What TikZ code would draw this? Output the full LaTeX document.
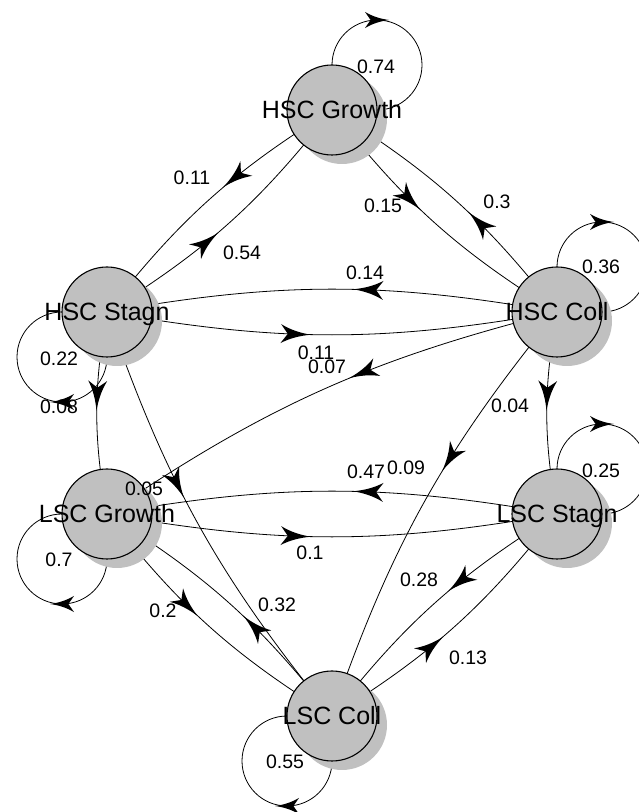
\documentclass[tikz,border=0pt]{standalone}
\usepackage{fontspec}
\setmainfont{Liberation Sans}
\usetikzlibrary{decorations.markings,shadows,backgrounds}
\definecolor{nodegray}{RGB}{192,192,192}
\newcommand\myhead{\fill (15pt,0pt) .. controls (3pt,1.6pt) and (-6pt,4.5pt) .. (-15pt,9.5pt) .. controls (-11pt,4pt) .. (-8pt,0pt) .. controls (-11pt,-4pt) .. (-15pt,-9.5pt) .. controls (-6pt,-4.5pt) and (3pt,-1.6pt) .. (15pt,0pt) -- cycle;}
\newcommand\myheadrev{\begin{scope}[xscale=-0.8,yscale=0.85]\myhead\end{scope}}
\begin{document}
\begin{tikzpicture}[x=1pt,y=1pt,
  state/.style={circle, draw=black, line width=1.1pt, fill=nodegray, minimum size=90pt, inner sep=0pt,
    drop shadow={shadow xshift=10pt, shadow yshift=-9pt, fill=nodegray, opacity=1}},
  lbl/.style={font=\fontsize{25}{25}\selectfont, text height=17.9pt, text depth=0pt, inner sep=0pt},
  wt/.style={font=\fontsize{19.5}{19.5}\selectfont, text height=14pt, text depth=0pt, inner sep=0pt},
  ed/.style={draw=black, line width=0.8pt, postaction={decorate, decoration={markings, mark=at position #1 with {\myhead}}}},
  loopup/.style={draw=black, line width=0.8pt, postaction={decorate, decoration={markings, mark=at position 0.25 with {\myheadrev}}}},
  loopdn/.style={draw=black, line width=0.8pt, postaction={decorate, decoration={markings, mark=at position 0.75 with {\myheadrev}}}}
]
\useasboundingbox (0,0) rectangle (638,812);

% states
\node[state, label={[lbl]center:HSC Growth}] (HG) at (332,702) {};
\node[state, label={[lbl]center:HSC Stagn}]  (HS) at (107,500) {};
\node[state, label={[lbl]center:HSC Coll}]   (HC) at (557,500) {};
\node[state, label={[lbl]center:LSC Growth}] (LG) at (107,298) {};
\node[state, label={[lbl]center:LSC Stagn}]  (LS) at (557,298) {};
\node[state, label={[lbl]center:LSC Coll}]   (LC) at (332,96) {};

\begin{scope}[on background layer]
  % self loops
  \draw[loopup] ([shift={(45,45)}]HG.center) circle[radius=45];
  \draw[loopup] ([shift={(45,45)}]HC.center) circle[radius=45];
  \draw[loopup] ([shift={(45,45)}]LS.center) circle[radius=45];
  \draw[loopdn] ([shift={(-45,-45)}]HS.center) circle[radius=45];
  \draw[loopdn] ([shift={(-45,-45)}]LG.center) circle[radius=45];
  \draw[loopdn] ([shift={(-45,-45)}]LC.center) circle[radius=45];
  % transitions
  \draw[ed=0.39]  (HG.center) to[bend right=10] (HS.center);
  \draw[ed=0.40]  (HS.center) to[bend right=10] (HG.center);
  \draw[ed=0.39]  (HG.center) to[bend right=10] (HC.center);
  \draw[ed=0.39]  (HC.center) to[bend right=10] (HG.center);
  \draw[ed=0.42]  (HC.center) to[bend right=10] (HS.center);
  \draw[ed=0.42]  (HS.center) to[bend right=10] (HC.center);
  \draw[ed=0.415] (HS.center) to[bend right=10] (LG.center);
  \draw[ed=0.415] (HC.center) to[bend right=10] (LS.center);
  \draw[ed=0.41]  (HC.center) to[bend right=10] (LG.center);
  \draw[ed=0.39]  (HC.center) to[bend right=10] (LC.center);
  \draw[ed=0.40]  (HS.center) to[bend right=10] (LC.center);
  \draw[ed=0.42]  (LS.center) to[bend right=10] (LG.center);
  \draw[ed=0.42]  (LG.center) to[bend right=10] (LS.center);
  \draw[ed=0.40]  (LG.center) to[bend right=10] (LC.center);
  \draw[ed=0.39]  (LC.center) to[bend right=10] (LG.center);
  \draw[ed=0.39]  (LS.center) to[bend right=10] (LC.center);
  \draw[ed=0.40]  (LC.center) to[bend right=10] (LS.center);
\end{scope}

% weights
\node[wt] (w01) at (376,745) {0.74};
\node[wt] (w02) at (192,634) {0.11};
\node[wt] (w03) at (242,559) {0.54};
\node[wt] (w04) at (383,606) {0.15};
\node[wt] (w05) at (497,610) {0.3};
\node[wt] (w06) at (601,545) {0.36};
\node[wt] (w07) at (365,539) {0.14};
\node[wt] (w08) at (316,459) {0.11};
\node[wt] (w09) at (327,445) {0.07};
\node[wt] (w10) at (59,453) {0.22};
\node[wt] (w11) at (59,405) {0.08};
\node[wt] (w12) at (510,406) {0.04};
\node[wt] (w13) at (366,340) {0.47};
\node[wt] (w14) at (406,344) {0.09};
\node[wt] (w15) at (601,341) {0.25};
\node[wt] (w16) at (144,323) {0.05};
\node[wt] (w17) at (310,259) {0.1};
\node[wt] (w18) at (59,252) {0.7};
\node[wt] (w19) at (277,207) {0.32};
\node[wt] (w20) at (163,201) {0.2};
\node[wt] (w21) at (419,232) {0.28};
\node[wt] (w22) at (468,154) {0.13};
\node[wt] (w23) at (285,50) {0.55};
\end{tikzpicture}
\end{document}
